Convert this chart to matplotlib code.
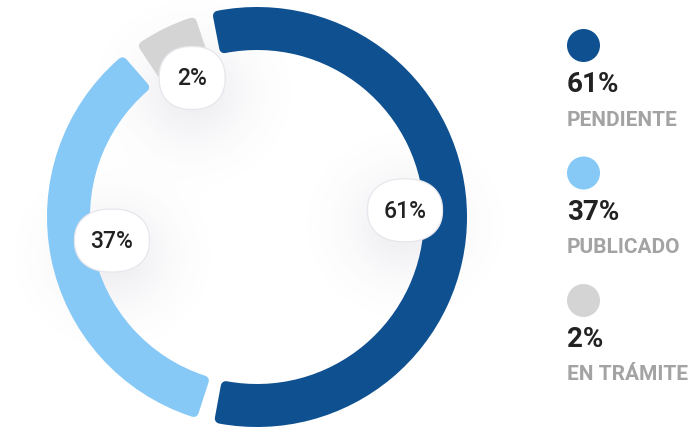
import numpy as np
import matplotlib
matplotlib.use("Agg")
import matplotlib.pyplot as plt
from matplotlib.patches import Wedge, Circle, Polygon

plt.rcParams["font.family"] = ["Roboto", "DejaVu Sans"]

labels = ["PENDIENTE", "PUBLICADO", "EN TRÁMITE"]
values = [61, 37, 2]
colors = ["#0e5090", "#86c8f6", "#d4d4d4"]

W, H = 688, 433
CX, CY = 257, 217          # donut centre (pixels)
R_OUT, R_IN = 210, 167
START = -12.5              # clockwise from 12 o'clock
GAP = 4.5                  # degrees between segments
MIN_ANGLE = 18.0           # small slices are drawn at least this wide
CORNER = 5                 # corner radius, px


def spans(vals):
    raw = np.array(vals, float) / sum(vals) * 360
    small = raw < MIN_ANGLE
    free = 360 - GAP * len(vals) - MIN_ANGLE * small.sum()
    out = np.where(small, MIN_ANGLE, raw / raw[~small].sum() * free)
    return out


def superellipse(x0, y0, w, h, n=2.3, k=120):
    t = np.linspace(0, 2 * np.pi, k, endpoint=False)
    c, s = np.cos(t), np.sin(t)
    x = x0 + w / 2 * np.sign(c) * np.abs(c) ** (2 / n)
    y = y0 + h / 2 * np.sign(s) * np.abs(s) ** (2 / n)
    return np.column_stack([x, y])


fig = plt.figure(figsize=(W / 100, H / 100), dpi=100)
ax = fig.add_axes([0, 0, 1, 1])
ax.set_xlim(0, W)
ax.set_ylim(H, 0)
ax.set_aspect("equal")
ax.axis("off")

# segment angles (clockwise from top)
seg = []
a = START
for s in spans(values):
    seg.append((a, a + s))
    a += s + GAP

# bubble positions + soft shadow
bubbles = []
r_lab = 148
for (a1, a2), v in zip(seg, values):
    m = np.radians((a1 + a2) / 2)
    bubbles.append((CX + r_lab * np.sin(m), CY - r_lab * np.cos(m) - 6, f"{v}%"))

yy, xx = np.mgrid[0:H, 0:W]
alpha = np.zeros((H, W))
for bx, by, _ in bubbles:
    alpha += 0.11 * np.exp(-((xx - bx) ** 2 / (2 * 38 ** 2) + (yy - by - 14) ** 2 / (2 * 36 ** 2)))
shadow = np.zeros((H, W, 4))
shadow[..., 0:3] = np.array([100, 100, 130]) / 255
shadow[..., 3] = np.clip(alpha, 0, 0.2)
ax.imshow(shadow, extent=[0, W, H, 0], zorder=1, interpolation="bilinear")

# ring segments, rounded corners via a same-colour round-joined edge
lw = 2 * CORNER * 72 / 100
r_mid = (R_OUT + R_IN) / 2
d = np.degrees(CORNER / r_mid)
for (a1, a2), c in zip(seg, colors):
    ax.add_patch(Wedge((CX, CY), R_OUT - CORNER, a1 - 90 + d, a2 - 90 - d,
                       width=R_OUT - R_IN - 2 * CORNER, facecolor=c,
                       edgecolor=c, linewidth=lw, joinstyle="round", zorder=2))

# value bubbles
for bx, by, txt in bubbles:
    w = max(66, 13 * len(txt) + 36)
    ax.add_patch(Polygon(superellipse(bx, by, w, 63), closed=True,
                         facecolor="white", edgecolor="#e6e6ec",
                         linewidth=0.9, zorder=3))
    ax.text(bx, by + 1, txt, ha="center", va="center", fontsize=16.5,
            fontweight=500, color="#222222", zorder=4)

# legend
for i, (lab, v, c) in enumerate(zip(labels, values, colors)):
    y0 = 45.5 + i * 127.5
    ax.add_patch(Circle((583.5, y0), 16.5, facecolor=c, edgecolor="none", zorder=2))
    ax.text(567, y0 + 39, f"{v}%", ha="left", va="center", fontsize=20,
            fontweight="bold", color="#222222")
    ax.text(567, y0 + 74.5, lab, ha="left", va="center", fontsize=15,
            fontweight="bold", color="#a3a3a3")

fig.savefig("out.png", dpi=100)
